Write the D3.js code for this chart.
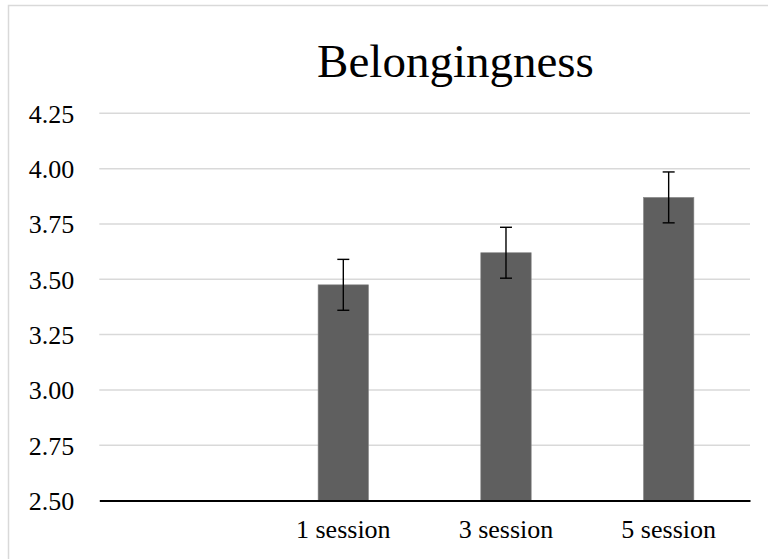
<!DOCTYPE html>
<html>
<head>
<meta charset="utf-8">
<script src="https://cdn.jsdelivr.net/npm/d3@7"></script>
<style>
    body { margin: 0; background: #fff; }
    svg { display: block; }
    svg text { font-family: "Liberation Serif", "Times New Roman", serif; }
</style>
</head>
<body>
<div id="grafico"></div>
<script>
// datos del grafico
const categorias = ["", "1 session", "3 session", "5 session"];
const medias = [null, 3.475, 3.62, 3.87];
const errores = [null, 0.115, 0.115, 0.115];
const ticksY = [2.50, 2.75, 3.00, 3.25, 3.50, 3.75, 4.00, 4.25];
const titulo = "Belongingness";

const datos = categorias.map((c, i) => ({ cat: c, media: medias[i], err: errores[i] }));

const W = 768, H = 559;
const margin = { top: 113.3, right: 18, bottom: 58.4, left: 99.3 };
const fuente = "'Liberation Serif', 'Times New Roman', serif";

const svg = d3.select("#grafico")
    .append("svg")
    .attr("width", W)
    .attr("height", H);

// borde del area del grafico (cortado a la derecha y abajo)
svg.append("path")
    .attr("d", `M8.5,${H} L8.5,5.5 L${W},5.5`)
    .attr("fill", "none")
    .attr("stroke", "#d9d9d9")
    .attr("stroke-width", 1.5);

const x = d3.scaleBand()
    .domain(categorias)
    .range([margin.left, W - margin.right])
    .paddingInner(0.69)
    .paddingOuter(0.345);

const y = d3.scaleLinear()
    .domain([2.5, 4.25])
    .range([H - margin.bottom, margin.top]);

// lineas de la grilla
svg.append("g")
    .selectAll("line")
    .data(ticksY.filter(t => t > 2.5))
    .enter()
    .append("line")
    .attr("x1", margin.left)
    .attr("x2", W - margin.right)
    .attr("y1", d => y(d))
    .attr("y2", d => y(d))
    .attr("stroke", "#d9d9d9")
    .attr("stroke-width", 1.5);

// eje Y (solo etiquetas)
const ejeY = svg.append("g")
    .attr("transform", `translate(${margin.left}, 0)`)
    .call(d3.axisLeft(y).tickValues(ticksY).tickFormat(d3.format(".2f")).tickSize(0).tickPadding(25));
ejeY.select(".domain").remove();
ejeY.selectAll("text")
    .attr("fill", "#000")
    .attr("dy", "0.34em")
    .style("font-family", fuente)
    .style("font-size", "26px");

// barras
svg.selectAll(".bar")
    .data(datos.filter(d => d.media != null))
    .enter()
    .append("rect")
    .attr("class", "bar")
    .attr("x", d => x(d.cat))
    .attr("y", d => y(d.media))
    .attr("width", x.bandwidth())
    .attr("height", d => y(2.5) - y(d.media))
    .attr("fill", "#5f5f5f")
    .attr("stroke", "#8a8a8a")
    .attr("stroke-width", 0.6);

// barras de error
const eb = svg.selectAll(".err")
    .data(datos.filter(d => d.media != null))
    .enter()
    .append("g")
    .attr("class", "err")
    .attr("stroke", "#000")
    .attr("stroke-width", 1.4);

eb.append("line")
    .attr("x1", d => x(d.cat) + x.bandwidth() / 2)
    .attr("x2", d => x(d.cat) + x.bandwidth() / 2)
    .attr("y1", d => y(d.media + d.err))
    .attr("y2", d => y(d.media - d.err));

[1, -1].forEach(s => {
    eb.append("line")
        .attr("x1", d => x(d.cat) + x.bandwidth() / 2 - 6)
        .attr("x2", d => x(d.cat) + x.bandwidth() / 2 + 6)
        .attr("y1", d => y(d.media + s * d.err))
        .attr("y2", d => y(d.media + s * d.err));
});

// eje X
const ejeX = svg.append("g")
    .attr("transform", `translate(0, ${y(2.5)})`)
    .call(d3.axisBottom(x).tickSize(0).tickPadding(19));
ejeX.select(".domain")
    .attr("stroke", "#000")
    .attr("stroke-width", 2);
ejeX.selectAll("text")
    .attr("fill", "#000")
    .style("font-family", fuente)
    .style("font-size", "26px");

// titulo
svg.append("text")
    .attr("x", 455.5)
    .attr("y", 77)
    .attr("text-anchor", "middle")
    .style("font-family", fuente)
    .style("font-size", "47px")
    .attr("fill", "#000")
    .text(titulo);
</script>
</body>
</html>
